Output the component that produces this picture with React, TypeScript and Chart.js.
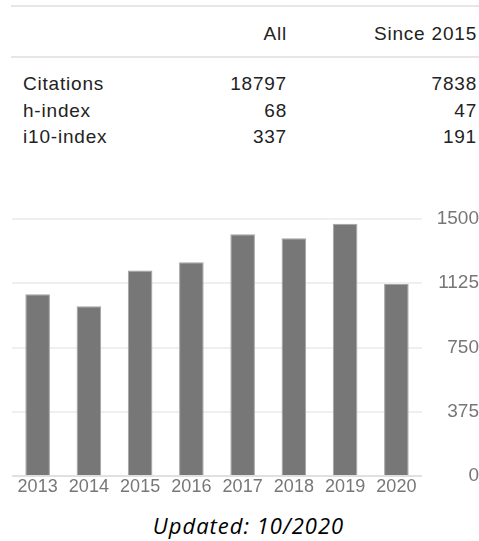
import React, { useEffect, useRef } from "react";
import { Chart, registerables } from "chart.js";

Chart.register(...registerables);

const years = ["2013", "2014", "2015", "2016", "2017", "2018", "2019", "2020"];
const citationsPerYear = [1061, 991, 1200, 1247, 1411, 1388, 1472, 1120];
const yTicks = [0, 375, 750, 1125, 1500];

const tableHeaders = ["All", "Since 2015"];
const rowLabels = ["Citations", "h-index", "i10-index"];
const allValues = ["18797", "68", "337"];
const sinceValues = ["7838", "47", "191"];
const updatedText = "Updated: 10/2020";

const FONT = "'Liberation Sans', Arial, sans-serif";

export default function App() {
  const canvasRef = useRef<HTMLCanvasElement | null>(null);

  useEffect(() => {
    const prev = document.body.style.margin;
    document.body.style.margin = "0";
    const canvas = canvasRef.current;
    if (!canvas) return;
    const chart = new Chart(canvas, {
      type: "bar",
      data: {
        labels: years,
        datasets: [
          {
            data: citationsPerYear,
            backgroundColor: "#777777",
            borderColor: "#a4a4a4",
            borderWidth: 1,
            barPercentage: 0.48,
            categoryPercentage: 1,
          },
        ],
      },
      options: {
        animation: false,
        responsive: false,
        maintainAspectRatio: false,
        layout: { padding: { top: 19, left: 12, right: 0, bottom: 0 } },
        plugins: { legend: { display: false }, tooltip: { enabled: false } },
        scales: {
          x: {
            grid: { display: false, drawTicks: false },
            border: { display: false },
            ticks: {
              color: "#777777",
              font: { family: FONT, size: 18 },
              padding: 0,
              maxRotation: 0,
              autoSkip: false,
            },
            afterFit: (scale: any) => {
              scale.height = 34;
            },
          },
          y: {
            position: "right",
            min: yTicks[0],
            max: yTicks[yTicks.length - 1],
            afterBuildTicks: (scale: any) => {
              scale.ticks = yTicks.map((v) => ({ value: v }));
            },
            grid: {
              drawTicks: false,
              lineWidth: 2,
              color: (ctx: any) => (ctx.tick && ctx.tick.value === 0 ? "#e0e0e0" : "#efefef"),
            },
            border: { display: false },
            ticks: {
              color: "#777777",
              font: { family: FONT, size: 19 },
              crossAlign: "far",
              padding: 13,
              callback: (v: any) => String(v),
            },
            afterFit: (scale: any) => {
              scale.width = 57;
              scale.paddingTop = 0;
              scale.paddingBottom = 0;
            },
          },
        },
      },
    });
    return () => {
      chart.destroy();
      document.body.style.margin = prev;
    };
  }, []);

  const textBase: React.CSSProperties = {
    position: "absolute",
    fontFamily: FONT,
    fontSize: 19,
    lineHeight: "19px",
    letterSpacing: "0.8px",
    color: "#222222",
    whiteSpace: "nowrap",
  };
  const rowTops = [74, 101, 127];

  return (
    <div style={{ position: "relative", width: 479, height: 541, background: "#ffffff", overflow: "hidden" }}>
      <div style={{ position: "absolute", left: 11, top: 5, width: 468, height: 2, background: "#e6e6e6" }} />
      <div style={{ position: "absolute", left: 11, top: 56, width: 468, height: 2, background: "#e6e6e6" }} />
      <div style={{ ...textBase, top: 24, right: 479 - 287 }}>{tableHeaders[0]}</div>
      <div style={{ ...textBase, top: 24, right: 2 }}>{tableHeaders[1]}</div>
      {rowLabels.map((l, i) => (
        <React.Fragment key={l}>
          <div style={{ ...textBase, top: rowTops[i], left: 23 }}>{l}</div>
          <div style={{ ...textBase, top: rowTops[i], right: 479 - 287 }}>{allValues[i]}</div>
          <div style={{ ...textBase, top: rowTops[i], right: 2 }}>{sinceValues[i]}</div>
        </React.Fragment>
      ))}
      <canvas
        ref={canvasRef}
        width={479}
        height={310}
        style={{ position: "absolute", left: 0, top: 200, width: 479, height: 310 }}
      />
      <div
        style={{
          position: "absolute",
          left: 0,
          width: 479,
          top: 510,
          textAlign: "center",
          fontFamily: "'Open Sans', sans-serif",
          fontStyle: "italic",
          fontSize: 22,
          lineHeight: "30px",
          letterSpacing: "1px",
          color: "#000000",
          paddingLeft: 18,
          boxSizing: "border-box",
          whiteSpace: "nowrap",
        }}
      >
        {updatedText}
      </div>
    </div>
  );
}
